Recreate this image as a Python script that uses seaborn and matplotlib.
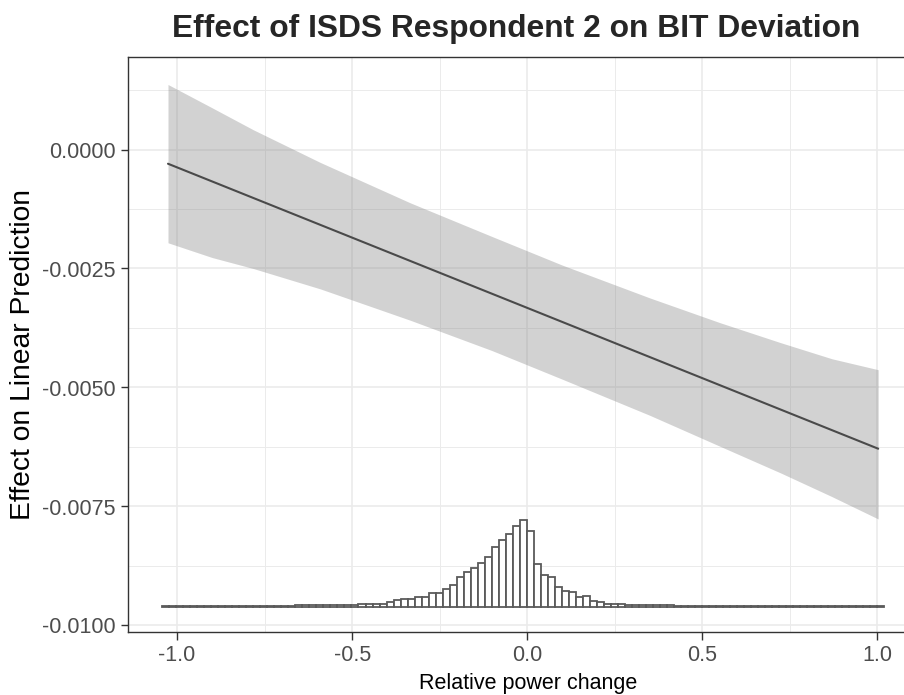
import numpy as np
import pandas as pd
import matplotlib
matplotlib.use("Agg")
import matplotlib.pyplot as plt
import seaborn as sns

# marginal effect line
line_x = [-1.026, 1.002]
line_y = [-0.000297, -0.006292]

# confidence band
band_x = [-1.026, -0.9, -0.783, -0.591, -0.334, -0.1, 0.1, 0.35, 0.55, 0.723, 0.87, 1.002]
band_upper = [0.00137, 0.00088, 0.00042, -0.00027, -0.00112, -0.00183, -0.00243,
              -0.00312, -0.00364, -0.00406, -0.0044, -0.00463]
band_lower = [-0.00196, -0.00227, -0.0025, -0.00293, -0.00359, -0.00423, -0.00483,
              -0.00559, -0.00624, -0.0068, -0.0073, -0.00777]

# histogram of relative power change (bin start, bin width, frequencies)
hist_start = -1.042
hist_width = 0.02
hist_freq = [0.8, 0.8, 0.9, 0.8, 0.9, 0.9, 1.0, 0.9, 1.0, 1.0,
             1.0, 1.1, 1.0, 1.1, 1.2, 1.2, 1.3, 1.3, 1.4, 1.5, 1.6,
             1.5, 1.6, 1.7, 1.8, 1.9, 2.0, 2.2, 2.5, 2.8, 3.0,
             3.3, 5.3, 7.0, 8.0, 7.5, 10.3, 10.3, 13.7, 14.0, 18.3, 22.0,
             29.5, 35.3, 38.7, 43.7, 50.0, 60.3, 66.7, 72.7, 81.2, 86.7,
             75.7, 42.7, 31.5, 30.0, 19.5, 16.2, 15.0, 9.5, 11.2, 6.2, 4.8, 3.2, 3.2,
             2.5, 2.3, 2.0, 2.0, 1.8, 1.8, 1.6, 1.5, 1.4, 1.3, 1.2,
             1.1, 1.0, 1.0, 1.0, 0.9, 0.9, 0.9, 0.9, 0.8, 0.8, 0.8, 0.8, 0.8, 0.7,
             0.7, 0.7, 0.7, 0.7, 0.7, 0.6, 0.6, 0.6, 0.6, 0.6, 0.6, 0.6, 0.6]

x_ticks = [-1.0, -0.5, 0.0, 0.5, 1.0]
x_labels = ["-1.0", "-0.5", "0.0", "0.5", "1.0"]
y_ticks = [0.0, -0.0025, -0.005, -0.0075, -0.01]
y_labels = ["0.0000", "-0.0025", "-0.0050", "-0.0075", "-0.0100"]

sns.set_theme(style="white")
plt.rcParams["font.family"] = ["Liberation Sans", "DejaVu Sans"]

fig = plt.figure(figsize=(9.045, 6.955), dpi=100)
ax = fig.add_axes([128 / 904, 63 / 695, 791 / 904, 575 / 695])

ax.fill_between(band_x, band_lower, band_upper, color="grey", alpha=0.35, linewidth=0, zorder=2)
sns.lineplot(x=line_x, y=line_y, ax=ax, color="#4a4a4a", linewidth=1.5, zorder=3)

# histogram on its own y scale, sharing x
hax = ax.twinx()
edges = hist_start + hist_width * np.arange(len(hist_freq) + 1)
hist_df = pd.DataFrame({"x": (edges[:-1] + edges[1:]) / 2, "w": hist_freq})
sns.histplot(data=hist_df, x="x", weights="w", bins=edges.tolist(), ax=hax,
             color="white", edgecolor="#5a5a5a", linewidth=1.3, alpha=1)
hax.set_ylim(-25, 550)
hax.set_yticks([])
hax.set_ylabel("")
for s in hax.spines.values():
    s.set_visible(False)

ax.set_xlim(-1.14, 1.12)
ax.set_ylim(-0.010147, 0.001958)
ax.set_xticks(x_ticks)
ax.set_xticklabels(x_labels)
ax.set_yticks(y_ticks)
ax.set_yticklabels(y_labels)
ax.set_xticks([-0.75, -0.25, 0.25, 0.75], minor=True)
ax.set_yticks([0.00125, -0.00125, -0.00375, -0.00625, -0.00875], minor=True)
ax.grid(which="major", color="#ebebeb", linewidth=1.2, zorder=0)
ax.grid(which="minor", color="#ebebeb", linewidth=0.7, zorder=0)
ax.set_axisbelow(True)
ax.tick_params(which="major", direction="out", length=5.4, width=1.0, color="#333333",
               labelsize=15.5, labelcolor="#4d4d4d", pad=3.5, left=True, bottom=True)
ax.tick_params(which="minor", length=0)
for s in ax.spines.values():
    s.set_color("#333333")
    s.set_linewidth(1.0)
ax.spines["right"].set_visible(False)

ax.set_xlabel("")
ax.set_ylabel("")
fig.text(528 / 904, 1 - 683 / 695, "Relative power change", ha="center", va="center",
         fontsize=15.5, color="black")
fig.text(23 / 904, 1 - 354 / 695, "Effect on Linear Prediction", ha="center", va="center",
         rotation=90, fontsize=20.3, color="black")
fig.text(516 / 904, 1 - 29 / 695, "Effect of ISDS Respondent 2 on BIT Deviation",
         ha="center", va="center", fontsize=22.9, fontweight="bold")

fig.savefig("out.png", dpi=100)
